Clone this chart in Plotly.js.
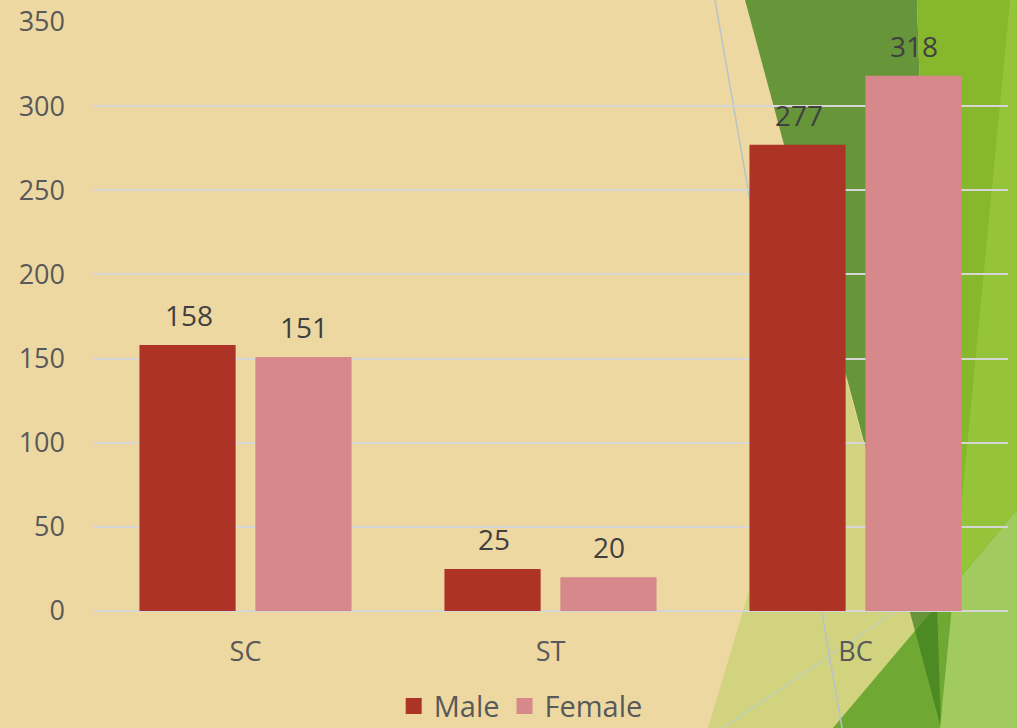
<!DOCTYPE html>
<html>
<head>
<meta charset="utf-8">
<script src="https://cdn.plot.ly/plotly-3.0.1.min.js"></script>
<style>html,body{margin:0;padding:0;background:#eed8a2;}#chart{width:1017px;height:728px;}</style>
</head>
<body>
<div id="chart"></div>
<script>
// ---- data ----
const categories = ["SC", "ST", "BC"];
const maleValues = [158, 25, 277];
const femaleValues = [151, 20, 318];
const seriesNames = ["Male", "Female"];
const yTickValues = [0, 50, 100, 150, 200, 250, 300, 350];

// ---- style ----
const W = 1017, H = 728;
const M = {l: 93, r: 9, t: 22, b: 117};
const FONT = "'Open Sans', 'Noto Sans', sans-serif";
const maleColor = "#ad3327";
const femaleColor = "#d7888a";

// decoration helpers: convert page pixels to paper coords
const pw = W - M.l - M.r, ph = H - M.t - M.b;
function px(x) { return (x - M.l) / pw; }
function py(y) { return (H - M.b - y) / ph; }
function poly(pts, color) {
  const d = pts.map((p, i) => (i ? "L" : "M") + px(p[0]).toFixed(4) + "," + py(p[1]).toFixed(4)).join(" ") + " Z";
  return {type: "path", xref: "paper", yref: "paper", path: d, fillcolor: color, line: {width: 0}, layer: "below"};
}
function seg(a, b, color) {
  return {type: "line", xref: "paper", yref: "paper", x0: px(a[0]), y0: py(a[1]), x1: px(b[0]), y1: py(b[1]),
          line: {color: color, width: 1.5}, layer: "below"};
}

const shapes = [
  poly([[830, 320], [708, 728], [941, 728]], "#d2d37f"),
  poly([[745, 0], [917, 0], [941, 728]], "#67963a"),
  poly([[917, 0], [1017, 0], [1017, 728], [941, 728]], "#86b72c"),
  poly([[1010, 0], [1017, 0], [1017, 728], [940, 728]], "#95c43a"),
  poly([[833, 728], [1017, 510], [1017, 728]], "#6fa832"),
  poly([[915, 631], [937, 605], [941, 728]], "#4e8a23"),
  poly([[954, 585], [1017, 510], [1017, 728], [940, 728]], "#a1cb5f"),
  seg([715, 0], [842, 728], "#b7c3c6"),
  seg([723, 728], [893, 613], "#bfd0b8")
];

const traces = [
  {type: "bar", name: seriesNames[0], x: categories, y: maleValues, showlegend: false,
   marker: {color: maleColor}, hoverinfo: "skip"},
  {type: "bar", name: seriesNames[1], x: categories, y: femaleValues, showlegend: false,
   marker: {color: femaleColor}, hoverinfo: "skip"},
  // legend entries (no marks drawn)
  {type: "scatter", mode: "markers", name: seriesNames[0], x: [null], y: [null],
   marker: {symbol: "square", size: 18, color: maleColor}},
  {type: "scatter", mode: "markers", name: seriesNames[1], x: [null], y: [null],
   marker: {symbol: "square", size: 18, color: femaleColor}}
];

const annotations = [];
[maleValues, femaleValues].forEach((vals, s) => {
  vals.forEach((v, i) => {
    annotations.push({x: categories[i], y: v, xref: "x", yref: "y", text: String(v),
      showarrow: false, xshift: s === 0 ? -57 : 58, yshift: 30, yanchor: "middle",
      font: {family: FONT, size: 28, color: "#404040"}});
  });
});

const layout = {
  width: W, height: H,
  margin: M,
  paper_bgcolor: "#eed8a2",
  plot_bgcolor: "rgba(0,0,0,0)",
  font: {family: FONT, color: "#595959"},
  barmode: "group",
  bargap: 0.24,
  bargroupgap: 0.17,
  showlegend: true,
  legend: {orientation: "h", xref: "container", yref: "container", x: 0.512, xanchor: "center",
           y: 0.03, yanchor: "middle", itemwidth: 30, tracegroupgap: 0,
           font: {family: FONT, size: 29, color: "#595959"}, bgcolor: "rgba(0,0,0,0)"},
  xaxis: {type: "category", showgrid: false, zeroline: false, showline: false,
          ticks: "", tickfont: {family: FONT, size: 27, color: "#595959"}, ticklabelstandoff: 22,
          fixedrange: true},
  yaxis: {range: [0, 350], tickvals: yTickValues, showgrid: true, gridcolor: "#d6d6d6", gridwidth: 2,
          zeroline: true, zerolinecolor: "#d6d6d6", zerolinewidth: 2, showline: false, ticks: "",
          tickfont: {family: FONT, size: 27, color: "#595959"}, ticklabelstandoff: 27, fixedrange: true},
  shapes: shapes,
  annotations: annotations
};

Plotly.newPlot("chart", traces, layout, {displayModeBar: false, staticPlot: true});
</script>
</body>
</html>
